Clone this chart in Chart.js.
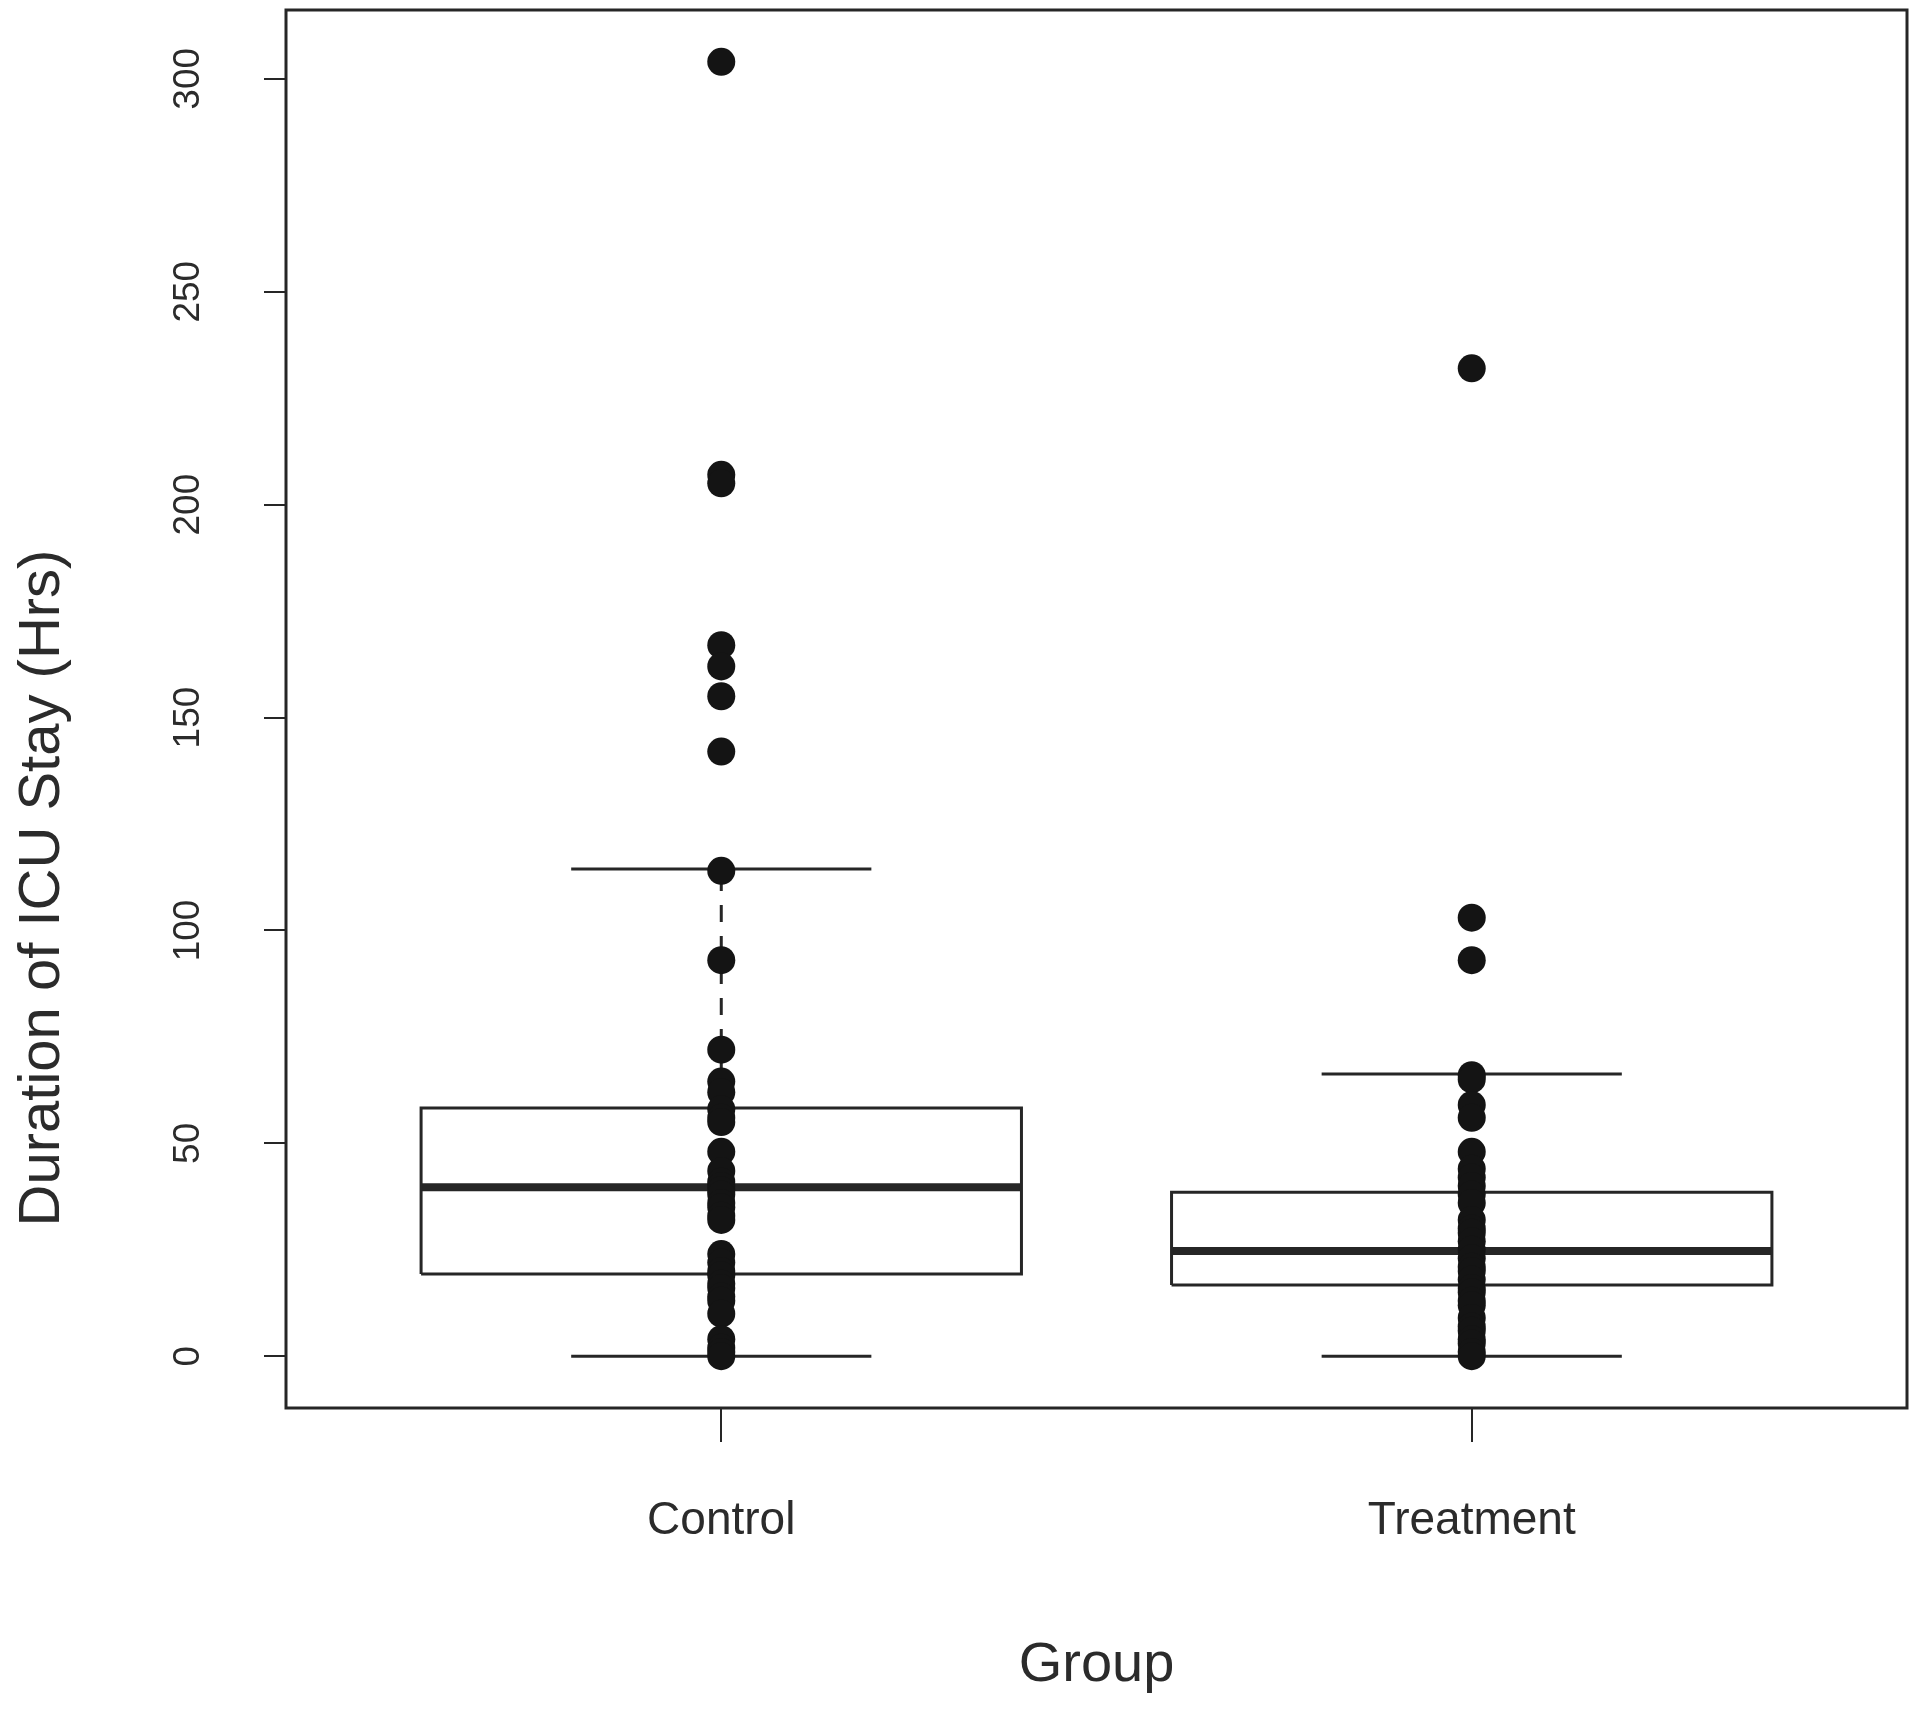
<!DOCTYPE html>
<html>
<head>
<meta charset="utf-8">
<script src="https://cdn.jsdelivr.net/npm/chart.js@4.4.1/dist/chart.umd.min.js"></script>
<style>
html, body { margin: 0; padding: 0; background: #fff; }
</style>
</head>
<body>
<canvas id="canvas1" width="1920" height="1711"></canvas>
<script>
// box summaries (hours)
var groups = ['Control', 'Treatment'];
var lowerWhisker = [0, 0];
var q1 = [19.3, 16.7];
var median = [39.7, 24.7];
var q3 = [58.3, 38.5];
var upperWhisker = [114.4, 66.3];

// individual stays overlaid on each box
var controlHours = [304, 207, 205, 167, 162, 155, 142, 114, 93, 72, 64.5, 62, 58, 56, 55, 48,
    43.5, 41, 40, 39, 38, 36, 35, 33, 32, 24, 22, 20, 19, 17, 16, 14, 13, 10, 4, 2, 1, 0];
var treatmentHours = [232, 103, 93, 66, 65, 59, 56, 48, 44, 42, 40, 38, 36, 32, 30, 29, 27, 25,
    23, 21, 20, 18, 16, 15, 13, 12, 9, 7, 6, 4, 3, 1, 0];

var yTicks = [0, 50, 100, 150, 200, 250, 300];
var xTitle = 'Group';
var yTitle = 'Duration of ICU Stay (Hrs)';

var ink = '#262626';

function hasFont(name) {
    var c = document.createElement('canvas').getContext('2d');
    c.font = '40px monospace';
    var a = c.measureText('Control Treatment 0123').width;
    c.font = '40px "' + name + '", monospace';
    var b = c.measureText('Control Treatment 0123').width;
    return a !== b;
}
var narrow = hasFont('Liberation Sans Narrow');
var family = narrow ? '"Liberation Sans Narrow", "Liberation Sans", Arial, sans-serif' : '"Liberation Sans", Arial, sans-serif';
var sz = narrow ? {xt: 55, yt: 44, xl: 66, yl: 70} : {xt: 46, yt: 37, xl: 56, yl: 58};

function seg(pts, width, dash) {
    return {
        type: 'scatter', data: pts, showLine: true, order: 1,
        borderColor: ink, borderWidth: width, borderDash: dash || [],
        pointRadius: 0, pointHoverRadius: 0, fill: false, tension: 0
    };
}

var datasets = [];
var allHours = [controlHours, treatmentHours];
allHours.forEach(function(vals, i) {
    datasets.push({
        type: 'scatter', order: 0,
        data: vals.map(function(v) { return {x: i + 1, y: v}; }),
        pointRadius: 14, pointHoverRadius: 14, pointBorderWidth: 0,
        pointBackgroundColor: '#141414'
    });
});
groups.forEach(function(g, i) {
    var c = i + 1;
    datasets.push(seg([{x: c - 0.4, y: q1[i]}, {x: c + 0.4, y: q1[i]}, {x: c + 0.4, y: q3[i]},
        {x: c - 0.4, y: q3[i]}, {x: c - 0.4, y: q1[i]}], 3));
    datasets.push(seg([{x: c - 0.4, y: median[i]}, {x: c + 0.4, y: median[i]}], 8));
    datasets.push(seg([{x: c - 0.2, y: upperWhisker[i]}, {x: c + 0.2, y: upperWhisker[i]}], 3));
    datasets.push(seg([{x: c - 0.2, y: lowerWhisker[i]}, {x: c + 0.2, y: lowerWhisker[i]}], 3));
    datasets.push(seg([{x: c, y: q3[i]}, {x: c, y: upperWhisker[i]}], 3, [17, 14]));
    datasets.push(seg([{x: c, y: q1[i]}, {x: c, y: lowerWhisker[i]}], 3, [17, 14]));
});

// frame round the plot region and the y title, placed like the original
var framePlugin = {
    id: 'frame',
    afterDraw: function(chart) {
        var ctx = chart.ctx, a = chart.chartArea;
        ctx.save();
        ctx.strokeStyle = ink;
        ctx.lineWidth = 3;
        ctx.strokeRect(a.left, a.top, a.right - a.left, a.bottom - a.top);
        ctx.translate(43, 888);
        ctx.rotate(-Math.PI / 2);
        ctx.fillStyle = '#2b2b2b';
        ctx.font = sz.yl + 'px ' + family;
        ctx.textAlign = 'center';
        ctx.textBaseline = 'middle';
        ctx.fillText(yTitle, 0, 0);
        ctx.restore();
    }
};

var ctx = document.getElementById('canvas1').getContext('2d');
var myChart = new Chart(ctx, {
    type: 'scatter',
    data: {datasets: datasets},
    plugins: [framePlugin],
    options: {
        responsive: false,
        devicePixelRatio: 1,
        animation: false,
        layout: {autoPadding: false, padding: {top: 10, right: 13, left: 0, bottom: 0}},
        plugins: {legend: {display: false}, tooltip: {enabled: false}},
        scales: {
            x: {
                type: 'linear', min: 0.42, max: 2.58,
                afterBuildTicks: function(scale) {
                    scale.ticks = groups.map(function(g, i) { return {value: i + 1}; });
                },
                afterFit: function(scale) {
                    scale.height = 303;
                    scale.paddingLeft = 0; scale.paddingRight = 0;
                },
                ticks: {
                    autoSkip: false, maxRotation: 0, padding: 56, color: '#2b2b2b',
                    font: {family: family, size: sz.xt, lineHeight: 1},
                    callback: function(v) { return groups[v - 1]; }
                },
                grid: {drawOnChartArea: false, drawTicks: true, tickLength: 34, color: ink, lineWidth: 2},
                border: {display: false},
                title: {
                    display: true, text: xTitle, color: '#2b2b2b',
                    font: {family: family, size: sz.xl, lineHeight: 1},
                    padding: {top: 0, bottom: 17}
                }
            },
            y: {
                min: -12.16, max: 316.16,
                afterBuildTicks: function(scale) {
                    scale.ticks = yTicks.map(function(v) { return {value: v}; });
                },
                afterFit: function(scale) {
                    scale.width = 286;
                    scale.paddingTop = 0; scale.paddingBottom = 0;
                },
                ticks: {
                    minRotation: 90, maxRotation: 90, crossAlign: 'center', padding: 44,
                    color: '#2b2b2b', font: {family: family, size: sz.yt, lineHeight: 1}
                },
                grid: {drawOnChartArea: false, drawTicks: true, tickLength: 22, color: ink, lineWidth: 2},
                border: {display: false}
            }
        }
    }
});
</script>
</body>
</html>
